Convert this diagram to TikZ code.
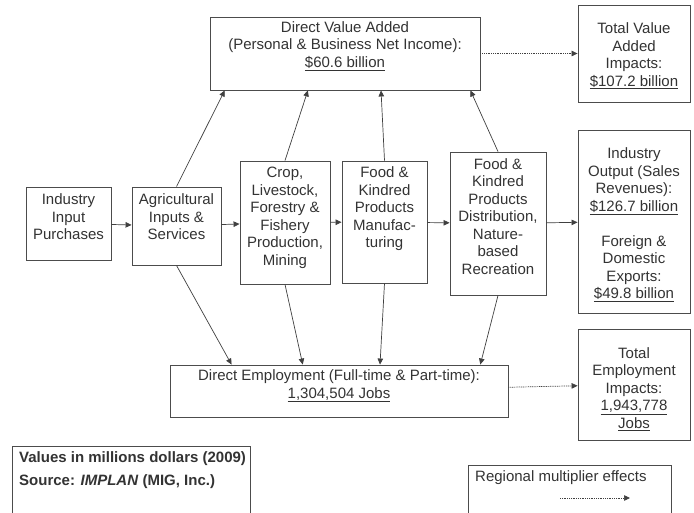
\documentclass[tikz,border=0pt]{standalone}
\usepackage{fontspec}
\setmainfont{Liberation Sans}
\usetikzlibrary{positioning, calc, arrows.meta}

\tikzset{
  box/.style={draw=black!70, line width=0.9pt, rectangle, inner sep=0pt},
  txt/.style={align=center, inner sep=0pt, text=black!80,
    font=\fontsize{15}{17.5}\selectfont},
  flow/.style={->, line width=0.7pt, draw=black!75},
  spill/.style={flow, dash pattern=on 1pt off 0.8pt},
}

\begin{document}
\begin{tikzpicture}[x=1pt, y=-1pt, >={Triangle[length=6pt,width=5.5pt]}]
    \useasboundingbox (0,0) rectangle (694,513);
    \fill[white] (0,0) rectangle (694,513);
    \clip (0,0) rectangle (694,513);

    % Boxes
    \node[box, minimum width=270, minimum height=73] (dva) at (345,53.5) {};
    \node[box, minimum width=112, minimum height=97] (tva) at (634,53.5) {};
    \node[box, minimum width=85, minimum height=73] (inp) at (68.5,223.5) {};
    \node[box, minimum width=89, minimum height=78] (agri) at (176.5,226) {};
    \node[box, minimum width=90, minimum height=123] (crop) at (285,222.5) {};
    \node[box, minimum width=85, minimum height=122] (mfg) at (384.5,222) {};
    \node[box, minimum width=96, minimum height=143] (dist) at (498,223.5) {};
    \node[box, minimum width=112, minimum height=183] (out) at (634,221.5) {};
    \node[box, minimum width=338, minimum height=52] (de) at (339,391) {};
    \node[box, minimum width=112, minimum height=111] (te) at (634,384.5) {};
    \node[box, minimum width=238, minimum height=94] (note) at (131,493) {};
    \node[box, minimum width=203, minimum height=75] (lgd) at (569.5,502.5) {};

    % Box texts
    \node[txt] (dva-t) at (345,46) {Direct Value Added\\(Personal \& Business Net Income):\\\underline{\$60.6 billion}};
    \node[txt] (tva-t) at (634,56) {Total Value\\Added\\Impacts:\\\underline{\$107.2 billion}};
    \node[txt] (inp-t) at (68.5,217) {Industry\\Input\\Purchases};
    \node[txt] (agri-t) at (176.5,217) {Agricultural\\Inputs \&\\Services};
    \node[txt] (crop-t) at (285,218) {Crop,\\Livestock,\\Forestry \&\\Fishery\\Production,\\Mining};
    \node[txt] (mfg-t) at (384.5,209) {Food \&\\Kindred\\Products\\Manufac-\\turing};
    \node[txt] (dist-t) at (498,216.5) {Food \&\\Kindred\\Products\\Distribution,\\Nature-\\based\\Recreation};
    \node[txt] (out-t) at (634,225) {Industry\\Output (Sales\\Revenues):\\\underline{\$126.7 billion}\\[17.5pt]Foreign \&\\Domestic\\Exports:\\\underline{\$49.8 billion}};
    \node[txt] (de-t) at (339,386) {Direct Employment (Full-time \& Part-time):\\\underline{1,304,504 Jobs}};
    \node[txt] (te-t) at (634,389) {Total\\Employment\\Impacts:\\\underline{1,943,778}\\\underline{Jobs}};

    % Notes and legend
    \node[txt, anchor=west, font=\fontsize{15}{17.5}\selectfont\bfseries] (note1) at (19,459) {Values in millions dollars (2009)};
    \node[txt, anchor=west, font=\fontsize{15}{17.5}\selectfont\bfseries] (note2) at (19,482) {Source: \textit{IMPLAN} (MIG, Inc.)};
    \node[txt, anchor=west] (lgd-t) at (475,478) {Regional multiplier effects};
    \coordinate (lgd-a) at (560,498);
    \coordinate (lgd-b) at (630,498);

    % Main chain
    \draw[flow] (inp) -- (agri);
    \draw[flow] (agri) -- (crop);
    \draw[flow] (crop) -- (mfg);
    \draw[flow] (mfg) -- (dist);
    \draw[flow] (dist) -- (out);

    % Up to value added
    \draw[flow] (agri.north) -- ($(dva.south west)!0.056!(dva.south east)$);
    \draw[flow] (crop.north) -- ($(dva.south west)!0.363!(dva.south east)$);
    \draw[flow] (mfg.north) -- ($(dva.south west)!0.633!(dva.south east)$);
    \draw[flow] (dist.north) -- ($(dva.south west)!0.963!(dva.south east)$);

    % Down to employment
    \draw[flow] (agri.south) -- ($(de.north west)!0.183!(de.north east)$);
    \draw[flow] (crop.south) -- ($(de.north west)!0.393!(de.north east)$);
    \draw[flow] (mfg.south) -- ($(de.north west)!0.621!(de.north east)$);
    \draw[flow] (dist.south) -- ($(de.north west)!0.917!(de.north east)$);

    % Multiplier effects
    \draw[spill] (dva) -- (tva);
    \draw[spill] (de) -- (te);
    \draw[spill] (lgd-a) -- (lgd-b);
\end{tikzpicture}
\end{document}
